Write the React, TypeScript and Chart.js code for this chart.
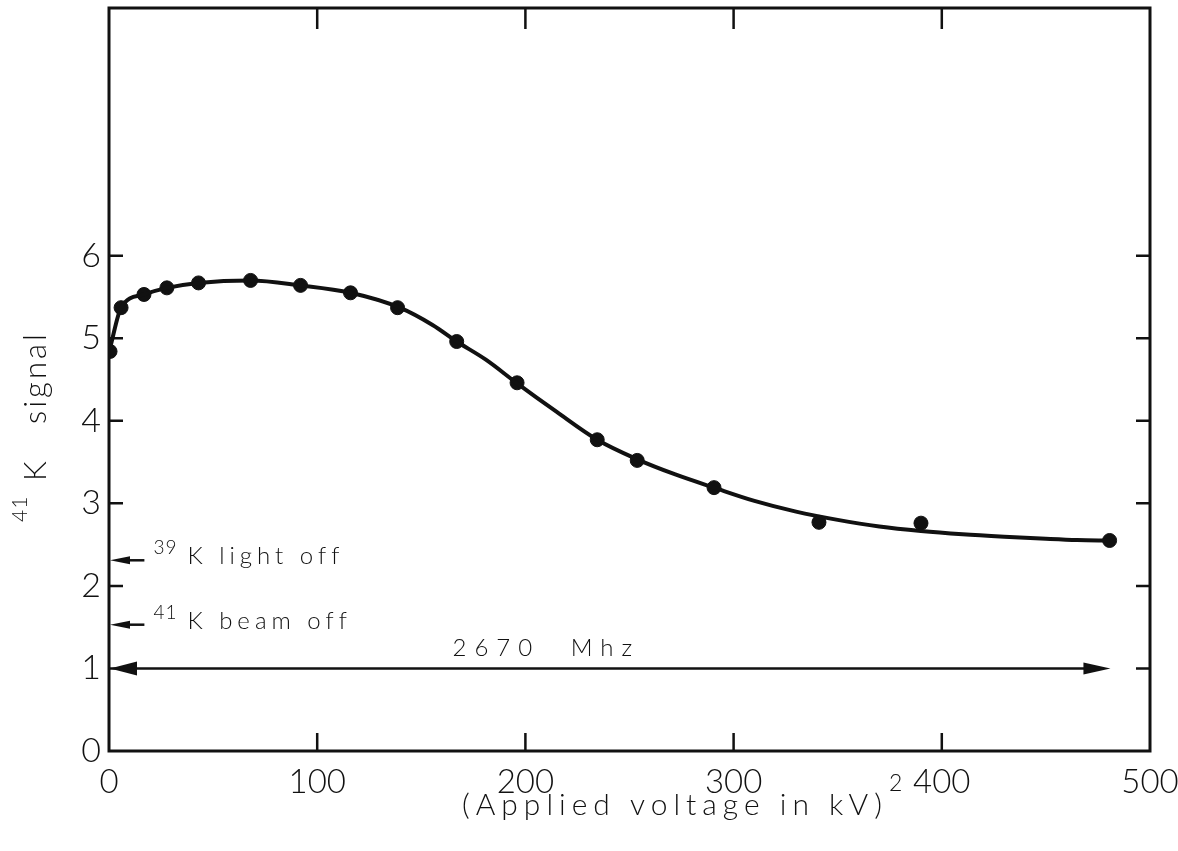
import React, { useEffect, useRef } from "react";
import { Chart, registerables } from "chart.js";

Chart.register(...registerables);

// Measured data points
const pointX = [0.5, 5.8, 16.8, 27.8, 43, 68, 92, 116, 138.6, 167, 196, 234.5, 253.7, 290.6, 341, 390, 480.6];
const pointY = [4.84, 5.37, 5.53, 5.61, 5.67, 5.7, 5.64, 5.55, 5.37, 4.96, 4.46, 3.77, 3.52, 3.19, 2.77, 2.76, 2.55];

// Hand-drawn smooth curve through the data
const fitX = [0.5, 5.8, 16.8, 27.8, 43, 68, 92, 116, 139.6, 155.4, 167, 181, 195.7, 214.9, 234.5, 254, 272, 290.6, 310, 330, 350, 370, 390, 410, 430, 450, 465, 480.6];
const fitY = [4.88, 5.37, 5.53, 5.61, 5.67, 5.7, 5.64, 5.55, 5.37, 5.16, 4.96, 4.74, 4.46, 4.11, 3.77, 3.53, 3.35, 3.19, 3.03, 2.9, 2.8, 2.72, 2.665, 2.625, 2.595, 2.57, 2.555, 2.55];

// Axes
const xMin = 0;
const xMax = 500;
const xStep = 100;
const yMin = 0;
const yMax = 9;
const yLabelMax = 6;

// Reference-level annotations (left arrows)
const refSup = ["39", "41"];
const refText = ["K light off", "K beam off"];
const refLevel = [2.31, 1.53];
const refTailX = 17;

// Frequency span arrow
const spanLevel = 1;
const spanFrom = 0;
const spanTo = 481;
const spanLabel = "2670 Mhz";
const spanLabelX = 165;
const spanLabelY = 1.15;

const FONT = '"Lato", "Open Sans", sans-serif';

function arrowHead(ctx: CanvasRenderingContext2D, tipX: number, y: number, dir: number, len: number, half: number) {
  ctx.beginPath();
  ctx.moveTo(tipX, y);
  ctx.lineTo(tipX + dir * len, y - half);
  ctx.lineTo(tipX + dir * len, y + half);
  ctx.closePath();
  ctx.fill();
}

const decorPlugin = {
  id: "decor",
  afterDatasetsDraw(chart: any) {
    const ctx: CanvasRenderingContext2D = chart.ctx;
    const { left, right, top, bottom } = chart.chartArea;
    const xs = chart.scales.x;
    const ys = chart.scales.y;
    ctx.save();
    ctx.strokeStyle = "#111";
    ctx.fillStyle = "#111";
    ctx.lineWidth = 3;
    ctx.strokeRect(left, top, right - left, bottom - top);

    // inward tick marks
    ctx.lineWidth = 2.5;
    xs.ticks.forEach((t: any) => {
      if (t.value <= xMin || t.value >= xMax) return;
      const px = xs.getPixelForValue(t.value);
      ctx.beginPath();
      ctx.moveTo(px, bottom);
      ctx.lineTo(px, bottom - 18);
      ctx.moveTo(px, top);
      ctx.lineTo(px, top + 21);
      ctx.stroke();
    });
    ys.ticks.forEach((t: any) => {
      if (t.value <= yMin || t.value > yLabelMax) return;
      const py = ys.getPixelForValue(t.value);
      ctx.beginPath();
      ctx.moveTo(left, py);
      ctx.lineTo(left + 14, py);
      ctx.moveTo(right, py);
      ctx.lineTo(right - 14, py);
      ctx.stroke();
    });

    // reference arrows + labels
    ctx.lineWidth = 2.5;
    refLevel.forEach((lv, i) => {
      const py = ys.getPixelForValue(lv);
      const x0 = xs.getPixelForValue(0) + 1;
      const x1 = xs.getPixelForValue(refTailX);
      ctx.beginPath();
      ctx.moveTo(x0 + 10, py);
      ctx.lineTo(x1, py);
      ctx.stroke();
      arrowHead(ctx, x0, py, 1, 20, 4);
      ctx.textBaseline = "alphabetic";
      ctx.textAlign = "left";
      (ctx as any).letterSpacing = "1px";
      ctx.font = `300 19px ${FONT}`;
      ctx.fillText(refSup[i], x1 + 9, py - 6);
      (ctx as any).letterSpacing = "5px";
      ctx.font = `300 24px ${FONT}`;
      ctx.fillText(refText[i], x1 + 43, py + 4);
    });

    // span arrow
    const sy = ys.getPixelForValue(spanLevel);
    const sx0 = xs.getPixelForValue(spanFrom) + 1;
    const sx1 = xs.getPixelForValue(spanTo);
    ctx.lineWidth = 2.5;
    ctx.beginPath();
    ctx.moveTo(sx0 + 10, sy);
    ctx.lineTo(sx1 - 10, sy);
    ctx.stroke();
    arrowHead(ctx, sx0, sy, 1, 27, 7);
    arrowHead(ctx, sx1, sy, -1, 27, 6);
    (ctx as any).letterSpacing = "8px";
    (ctx as any).wordSpacing = "16px";
    ctx.font = `300 24px ${FONT}`;
    ctx.fillText(spanLabel, xs.getPixelForValue(spanLabelX), ys.getPixelForValue(spanLabelY));
    (ctx as any).wordSpacing = "0px";

    // x-axis title
    (ctx as any).letterSpacing = "6px";
    ctx.font = `300 30px ${FONT}`;
    const xt = "(Applied voltage in kV)";
    const xtX = 462;
    const xtY = 815;
    ctx.fillText(xt, xtX, xtY);
    const w = ctx.measureText(xt).width;
    ctx.font = `300 23px ${FONT}`;
    ctx.fillText("2", xtX + w + 1, xtY - 24);

    // y-axis title (rotated)
    ctx.translate(46, 522);
    ctx.rotate(-Math.PI / 2);
    (ctx as any).letterSpacing = "1px";
    ctx.font = `300 21px ${FONT}`;
    ctx.fillText("41", 0, -19);
    ctx.font = `300 31px ${FONT}`;
    ctx.fillText("K", 41, 0);
    (ctx as any).letterSpacing = "3px";
    ctx.fillText("signal", 98, 0);
    ctx.restore();
  },
};

export default function App() {
  const ref = useRef<HTMLCanvasElement | null>(null);
  useEffect(() => {
    document.body.style.margin = "0";
    const canvas = ref.current;
    if (!canvas) return;
    const chart = new Chart(canvas, {
      type: "scatter",
      data: {
        datasets: [
          {
            label: "fit",
            data: fitX.map((x, i) => ({ x, y: fitY[i] })),
            showLine: true,
            borderColor: "#111",
            borderWidth: 4,
            pointRadius: 0,
            cubicInterpolationMode: "monotone",
            fill: false,
          },
          {
            label: "data",
            data: pointX.map((x, i) => ({ x, y: pointY[i] })),
            showLine: false,
            pointRadius: 7,
            pointBackgroundColor: "#111",
            pointBorderColor: "#111",
            pointBorderWidth: 1,
          },
        ],
      },
      options: {
        animation: false,
        responsive: true,
        maintainAspectRatio: false,
        layout: { padding: { top: 8, right: 28, left: 0, bottom: 0 } },
        plugins: { legend: { display: false }, tooltip: { enabled: false }, title: { display: false } },
        scales: {
          x: {
            type: "linear",
            min: xMin,
            max: xMax,
            ticks: {
              stepSize: xStep,
              color: "#111",
              padding: 12,
              font: { family: FONT, size: 33, weight: "300" as any },
            },
            grid: { display: false, drawTicks: false },
            border: { display: false },
            afterFit: (s: any) => {
              s.height = 100;
              s.paddingLeft = 0;
              s.paddingRight = 0;
            },
          },
          y: {
            type: "linear",
            min: yMin,
            max: yMax,
            ticks: {
              stepSize: 1,
              color: "#111",
              padding: 8,
              font: { family: FONT, size: 34, weight: "300" as any },
            },
            afterBuildTicks: (s: any) => {
              s.ticks = s.ticks.filter((t: any) => t.value <= yLabelMax);
            },
            grid: { display: false, drawTicks: false },
            border: { display: false },
            afterFit: (s: any) => {
              s.width = 109;
              s.paddingTop = 0;
              s.paddingBottom = 0;
            },
          },
        },
      },
      plugins: [decorPlugin],
    });
    return () => chart.destroy();
  }, []);
  return (
    <div style={{ width: 1178, height: 851, position: "relative", background: "#fff" }}>
      <canvas ref={ref} />
    </div>
  );
}
